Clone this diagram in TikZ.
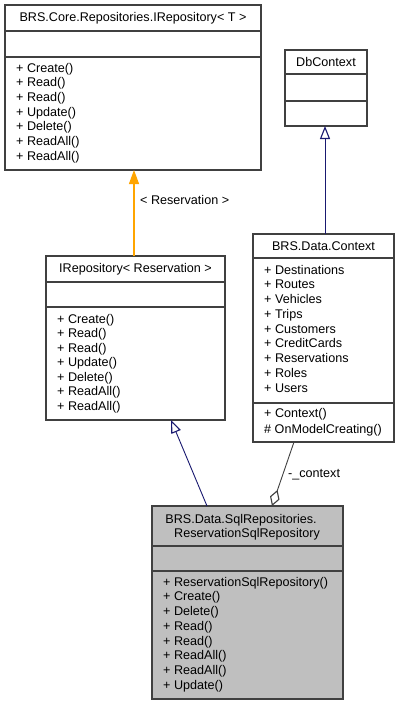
\documentclass[tikz,border=0pt]{standalone}
\usepackage{fontspec}
\setmainfont{Liberation Sans}
\usetikzlibrary{arrows.meta,calc}
\definecolor{boxline}{HTML}{404040}
\definecolor{navy}{HTML}{191970}
\definecolor{orng}{HTML}{FFA500}
\definecolor{grayfill}{HTML}{BFBFBF}
\begin{document}
\begin{tikzpicture}[x=1pt,y=-1pt,
  box/.style={draw=boxline, line width=1.3pt, fill=white, anchor=north west, inner sep=0, outer sep=0},
  sep/.style={draw=boxline, line width=1.3pt},
  txt/.style={inner sep=0, font=\fontsize{12.6}{14}\selectfont, anchor=base west},
  ttl/.style={inner sep=0, font=\fontsize{12.6}{14}\selectfont, anchor=base},
  inh/.style={draw=navy, line width=0.9pt, -{Triangle[open, width=10pt, length=13pt, fill=white, line width=1.1pt]}},
  tmpl/.style={draw=orng, line width=1.2pt, -{Triangle[width=10pt, length=14pt]}, orng},
  aggr/.style={draw=boxline, line width=0.9pt, {Diamond[open, width=10pt, length=17pt, fill=white, line width=1.1pt]}-},
]
\useasboundingbox (0,0) rectangle (400,705);
\fill[white] (0,0) rectangle (400,705);

% Box 1: BRS.Core.Repositories.IRepository< T >
\node[box, minimum width=256pt, minimum height=165pt] (b1) at (5,5) {};
\draw[sep] (5,31) -- (261,31);
\draw[sep] (5,57) -- (261,57);
\node[ttl] (b1t) at (133,21.7) {BRS.Core.Repositories.IRepository< T >};
\foreach \t [count=\i from 0] in {Create(),Read(),Read(),Update(),Delete(),ReadAll(),ReadAll()}
  \node[txt] (b1m\i) at (16,72.2+\i*14.67) {+ \t};

% Box 2: IRepository< Reservation >
\node[box, minimum width=179pt, minimum height=164pt] (b2) at (46,256) {};
\draw[sep] (46,282) -- (225,282);
\draw[sep] (46,307) -- (225,307);
\node[ttl] (b2t) at (135.5,272.2) {IRepository< Reservation >};
\foreach \t [count=\i from 0] in {Create(),Read(),Read(),Update(),Delete(),ReadAll(),ReadAll()}
  \node[txt] (b2m\i) at (57,323.2+\i*14.5) {+ \t};

% DbContext
\node[box, minimum width=82pt, minimum height=76pt] (db) at (285,50) {};
\draw[sep] (285,74) -- (367,74);
\draw[sep] (285,101) -- (367,101);
\node[ttl] (dbt) at (326,66.2) {DbContext};

% BRS.Data.Context
\node[box, minimum width=141pt, minimum height=208pt] (ctx) at (253,234) {};
\draw[sep] (253,258) -- (394,258);
\draw[sep] (253,403) -- (394,403);
\node[ttl] (ctxt) at (323.5,250.2) {BRS.Data.Context};
\foreach \t [count=\i from 0] in {Destinations,Routes,Vehicles,Trips,Customers,CreditCards,Reservations,Roles,Users}
  \node[txt] (ctxa\i) at (264,274.2+\i*14.75) {+ \t};
\node[txt] (ctxm0) at (264,417.2) {+ Context()};
\node[txt] (ctxm1) at (264,433.2) {\# OnModelCreating()};

% Main: ReservationSqlRepository
\node[box, fill=grayfill, minimum width=191pt, minimum height=193pt] (main) at (152,506) {};
\draw[sep] (152,546) -- (343,546);
\draw[sep] (152,571) -- (343,571);
\node[ttl] (mt1) at (241,523.5) {BRS.Data.SqlRepositories.};
\node[ttl] (mt2) at (247,537.3) {ReservationSqlRepository};
\foreach \t [count=\i from 0] in {ReservationSqlRepository(),Create(),Delete(),Read(),Read(),ReadAll(),ReadAll(),Update()}
  \node[txt] (mm\i) at (163,586.2+\i*14.7) {+ \t};

% Connectors
\draw[tmpl] (134,0 |- b2.north) -- (134,0 |- b1.south);
\node[txt] (lbl1) at (140,204.2) {< Reservation >};

\draw[inh] (325,0 |- ctx.north) -- (325,0 |- db.south);

\draw[inh] (207,0 |- main.north) -- (171,0 |- b2.south);

\draw[aggr] (272,0 |- main.north) -- (294,0 |- ctx.south);
\node[txt] (lbl2) at (288,477.2) {-\_context};
\end{tikzpicture}
\end{document}
